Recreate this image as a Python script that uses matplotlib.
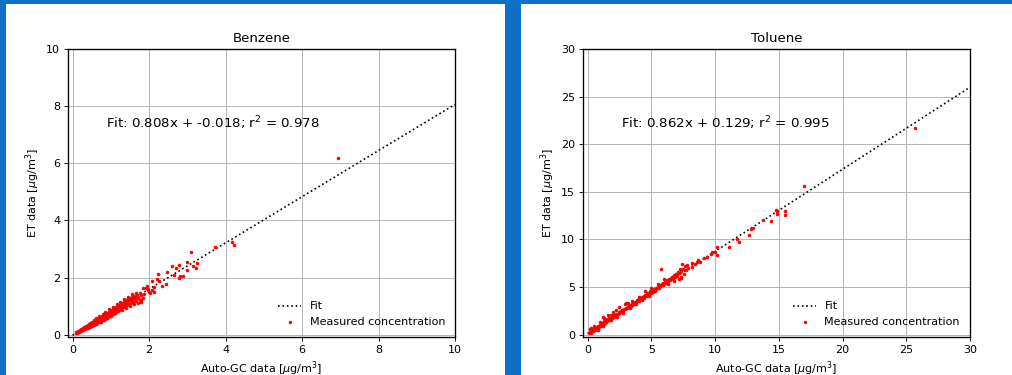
import matplotlib.pyplot as plt
from matplotlib.patches import Rectangle

# Benzene: auto-GC vs ET [ug/m3]
benzene_x = [0.08, 0.10, 0.12, 0.14, 0.15, 0.17, 0.18, 0.20, 0.21, 0.22, 0.24, 0.25, 0.26, 0.28, 0.29,
             0.30, 0.32, 0.33, 0.34, 0.36, 0.37, 0.38, 0.40, 0.41, 0.42, 0.44, 0.45, 0.46, 0.48, 0.49,
             0.50, 0.52, 0.53, 0.54, 0.55, 0.57, 0.58, 0.60, 0.61, 0.62, 0.64, 0.65, 0.66, 0.68, 0.69,
             0.70, 0.72, 0.73, 0.74, 0.76, 0.77, 0.78, 0.80, 0.81, 0.82, 0.84, 0.85, 0.86, 0.88, 0.89,
             0.90, 0.92, 0.93, 0.94, 0.96, 0.97, 0.98, 1.00, 1.01, 1.02, 1.04, 1.05, 1.06, 1.08, 1.09,
             1.10, 1.12, 1.13, 1.14, 1.16, 1.17, 1.18, 1.20, 1.21, 1.22, 1.24, 1.25, 1.26, 1.28, 1.29,
             1.30, 1.32, 1.33, 1.35, 1.36, 1.38, 1.40, 1.41, 1.43, 1.45, 1.46, 1.48, 1.50, 1.52, 1.54,
             1.55, 1.57, 1.59, 1.61, 1.63, 1.65, 1.68, 1.70, 1.72, 1.75, 1.78, 1.80, 1.84, 1.88, 1.91,
             1.94, 1.97, 1.99, 2.02, 2.07, 2.07, 2.13, 2.14, 2.20, 2.24, 2.27, 2.33, 2.43, 2.46, 2.61,
             2.65, 2.70, 2.77, 2.78, 2.81, 2.88, 2.98, 3.00, 3.09, 3.14, 3.23, 3.26, 3.73, 4.18, 4.23,
             6.93,
             0.55, 0.62, 0.70, 0.75, 0.85, 0.90, 0.95, 1.00, 1.05, 1.10, 1.15, 1.20, 1.25, 1.30, 1.35,
             1.40, 1.45, 1.50, 1.55, 1.60, 1.65, 1.70, 1.75, 1.80, 1.85, 0.45, 0.40, 0.35, 0.60, 0.80]
benzene_y = [0.05, 0.09, 0.07, 0.12, 0.10, 0.14, 0.11, 0.16, 0.13, 0.19, 0.17, 0.21, 0.15, 0.22, 0.19,
             0.26, 0.23, 0.20, 0.28, 0.25, 0.30, 0.22, 0.33, 0.28, 0.36, 0.31, 0.27, 0.38, 0.34, 0.40,
             0.30, 0.43, 0.37, 0.46, 0.33, 0.41, 0.48, 0.44, 0.38, 0.51, 0.47, 0.42, 0.55, 0.50, 0.45,
             0.58, 0.53, 0.47, 0.61, 0.56, 0.50, 0.64, 0.59, 0.53, 0.68, 0.63, 0.56, 0.71, 0.66, 0.60,
             0.75, 0.70, 0.62, 0.78, 0.73, 0.66, 0.82, 0.77, 0.70, 0.86, 0.80, 0.72, 0.90, 0.84, 0.76,
             0.93, 0.87, 0.79, 0.97, 0.91, 0.83, 1.01, 0.94, 0.86, 1.04, 0.98, 0.89, 1.08, 1.02, 0.92,
             1.12, 1.05, 0.96, 1.16, 1.09, 0.99, 1.20, 1.13, 1.03, 1.25, 1.17, 1.07, 1.28, 1.21, 1.11,
             1.33, 1.25, 1.15, 1.37, 1.29, 1.19, 1.40, 1.10, 1.33, 1.22, 1.14, 1.40, 1.30, 1.42, 1.65,
             1.71, 1.57, 1.49, 1.45, 1.88, 1.57, 1.51, 1.66, 1.94, 2.13, 1.89, 1.71, 1.77, 2.18, 2.39,
             2.09, 2.35, 2.44, 1.98, 2.06, 2.04, 2.56, 2.25, 2.88, 2.42, 2.33, 2.50, 3.06, 3.23, 3.15,
             6.19,
             0.52, 0.40, 0.66, 0.45, 0.80, 0.58, 0.90, 0.65, 0.98, 0.75, 1.07, 0.82, 1.15, 0.88, 1.25,
             0.95, 1.33, 1.02, 1.42, 1.08, 1.45, 1.30, 1.45, 1.20, 1.62, 0.42, 0.25, 0.32, 0.57, 0.72]

# Toluene
toluene_x = [0.10, 0.15, 0.20, 0.25, 0.30, 0.35, 0.40, 0.45, 0.50, 0.55, 0.60, 0.65, 0.70, 0.75, 0.80,
             0.85, 0.90, 0.95, 1.00, 1.05, 1.10, 1.15, 1.20, 1.25, 1.30, 1.35, 1.40, 1.45, 1.50, 1.55,
             1.60, 1.65, 1.70, 1.75, 1.80, 1.85, 1.90, 1.95, 2.00, 2.05, 2.10, 2.15, 2.20, 2.25, 2.30,
             2.40, 2.45, 2.50, 2.60, 2.65, 2.70, 2.80, 2.85, 2.90, 2.95, 3.00, 3.10, 3.15, 3.20, 3.25,
             3.30, 3.40, 3.45, 3.50, 3.60, 3.65, 3.70, 3.80, 3.85, 3.90, 4.00, 4.05, 4.10, 4.20, 4.25,
             4.30, 4.40, 4.45, 4.50, 4.60, 4.65, 4.70, 4.80, 4.85, 4.90, 5.00, 5.05, 5.10, 5.20, 5.30,
             5.35, 5.40, 5.50, 5.60, 5.65, 5.70, 5.79, 5.80, 5.90, 5.95, 6.00, 6.10, 6.20, 6.25, 6.30,
             6.40, 6.50, 6.55, 6.60, 6.70, 6.75, 6.85, 6.90, 7.00, 7.10, 7.14, 7.20, 7.27, 7.32, 7.35,
             7.40, 7.45, 7.53, 7.61, 7.70, 7.79, 7.90, 8.18, 8.23, 8.40, 8.57, 8.70, 8.80, 9.14, 9.35,
             9.69, 9.79, 10.00, 10.13, 10.18, 11.09, 11.69, 11.87, 12.65, 12.80, 12.96, 13.77, 14.42, 14.80, 14.86,
             14.88, 15.45, 15.50, 16.96, 25.66,
             1.0, 1.3, 1.6, 2.0, 2.5, 3.0, 3.5, 4.0, 4.5, 5.0, 5.5, 6.0, 0.5, 0.8, 1.2,
             1.8, 2.3, 2.8, 3.3, 3.8, 4.3, 4.8, 5.3, 6.3, 6.8, 7.3, 0.3, 0.2]
toluene_y = [0.15, 0.55, 0.30, 0.20, 0.45, 0.35, 0.60, 0.40, 0.55, 0.70, 0.50, 0.75, 0.62, 0.85, 0.70,
             0.95, 0.80, 1.05, 0.90, 1.15, 1.00, 1.25, 1.90, 1.10, 1.40, 1.25, 1.55, 1.35, 1.60, 1.45,
             1.70, 1.55, 1.80, 1.60, 2.05, 1.70, 1.85, 1.75, 2.00, 1.85, 2.15, 1.95, 2.60, 2.05, 2.20,
             2.15, 2.35, 2.25, 2.45, 2.35, 2.55, 2.50, 2.70, 3.20, 2.65, 2.85, 2.80, 3.00, 3.30, 2.95,
             3.10, 3.05, 3.25, 3.15, 3.35, 3.25, 3.45, 3.40, 3.60, 3.50, 3.70, 3.55, 3.80, 3.75, 3.95,
             3.85, 4.05, 3.90, 4.20, 4.10, 4.35, 4.15, 4.40, 4.30, 4.55, 4.40, 4.65, 4.50, 4.80, 4.70,
             4.95, 4.85, 5.05, 4.95, 5.25, 5.10, 6.90, 5.30, 5.20, 5.45, 5.35, 5.55, 5.45, 5.70, 5.60,
             5.85, 5.70, 5.95, 6.10, 5.90, 6.25, 6.05, 6.40, 6.20, 6.60, 6.45, 5.80, 6.95, 5.99, 6.70,
             7.40, 6.85, 6.35, 7.25, 6.80, 7.32, 7.05, 7.14, 7.49, 7.40, 7.67, 7.84, 7.60, 8.08, 8.19,
             8.47, 8.64, 8.71, 9.23, 8.36, 9.23, 10.03, 9.72, 10.45, 11.15, 11.25, 12.06, 11.92, 13.10, 12.96,
             12.72, 12.54, 13.00, 15.57, 21.74,
             1.3, 1.8, 2.1, 2.4, 2.9, 3.3, 3.5, 4.0, 4.6, 4.9, 5.3, 5.8, 0.9, 0.5, 0.95,
             1.5, 1.9, 2.3, 2.8, 3.2, 3.6, 4.1, 4.6, 5.3, 5.6, 6.1, 0.7, 0.6]

panels = [
    ('Benzene', benzene_x, benzene_y, 0.808, -0.018, 0.978, 10),
    ('Toluene', toluene_x, toluene_y, 0.862, 0.129, 0.995, 30),
]

fig = plt.figure(figsize=(12.65, 4.6875), dpi=80)
fig.patch.set_facecolor('#1070c8')
# white panel backgrounds behind the axes
fig.patches.append(Rectangle((6 / 1012, 0), 499 / 1012, 371 / 375, transform=fig.transFigure,
                             facecolor='white', edgecolor='none', zorder=-5))
fig.patches.append(Rectangle((521 / 1012, 0), 491 / 1012, 371 / 375, transform=fig.transFigure,
                             facecolor='white', edgecolor='none', zorder=-5))

lefts = [68 / 1012, 583 / 1012]
for left, (name, xs, ys, a, b, r2, top) in zip(lefts, panels):
    ax = fig.add_axes([left, 0.1013, 387 / 1012, 0.768])
    ax.plot([0, top], [b, a * top + b], 'k:', label='Fit')
    ax.scatter(xs, ys, s=10, c='red', linewidths=0, label='Measured concentration', zorder=3)
    ax.text(0.098, 0.743, f'Fit: {a:.3f}x + {b:.3f}; r$^2$ = {r2:.3f}', transform=ax.transAxes,
            fontsize=12, va='center')
    ax.set_xlim(-0.012 * top, top)
    ax.set_ylim(-0.008 * top, top)
    ax.set_title(name)
    ax.set_xlabel(r'Auto-GC data [$\mu$g/m$^3$]')
    ax.set_ylabel(r'ET data [$\mu$g/m$^3$]')
    ax.grid(True)
    for sp in ax.spines.values():
        sp.set_linewidth(1.2)
    ax.legend(loc='lower right', frameon=False)

plt.savefig('out.png', dpi=80, facecolor=fig.get_facecolor())
